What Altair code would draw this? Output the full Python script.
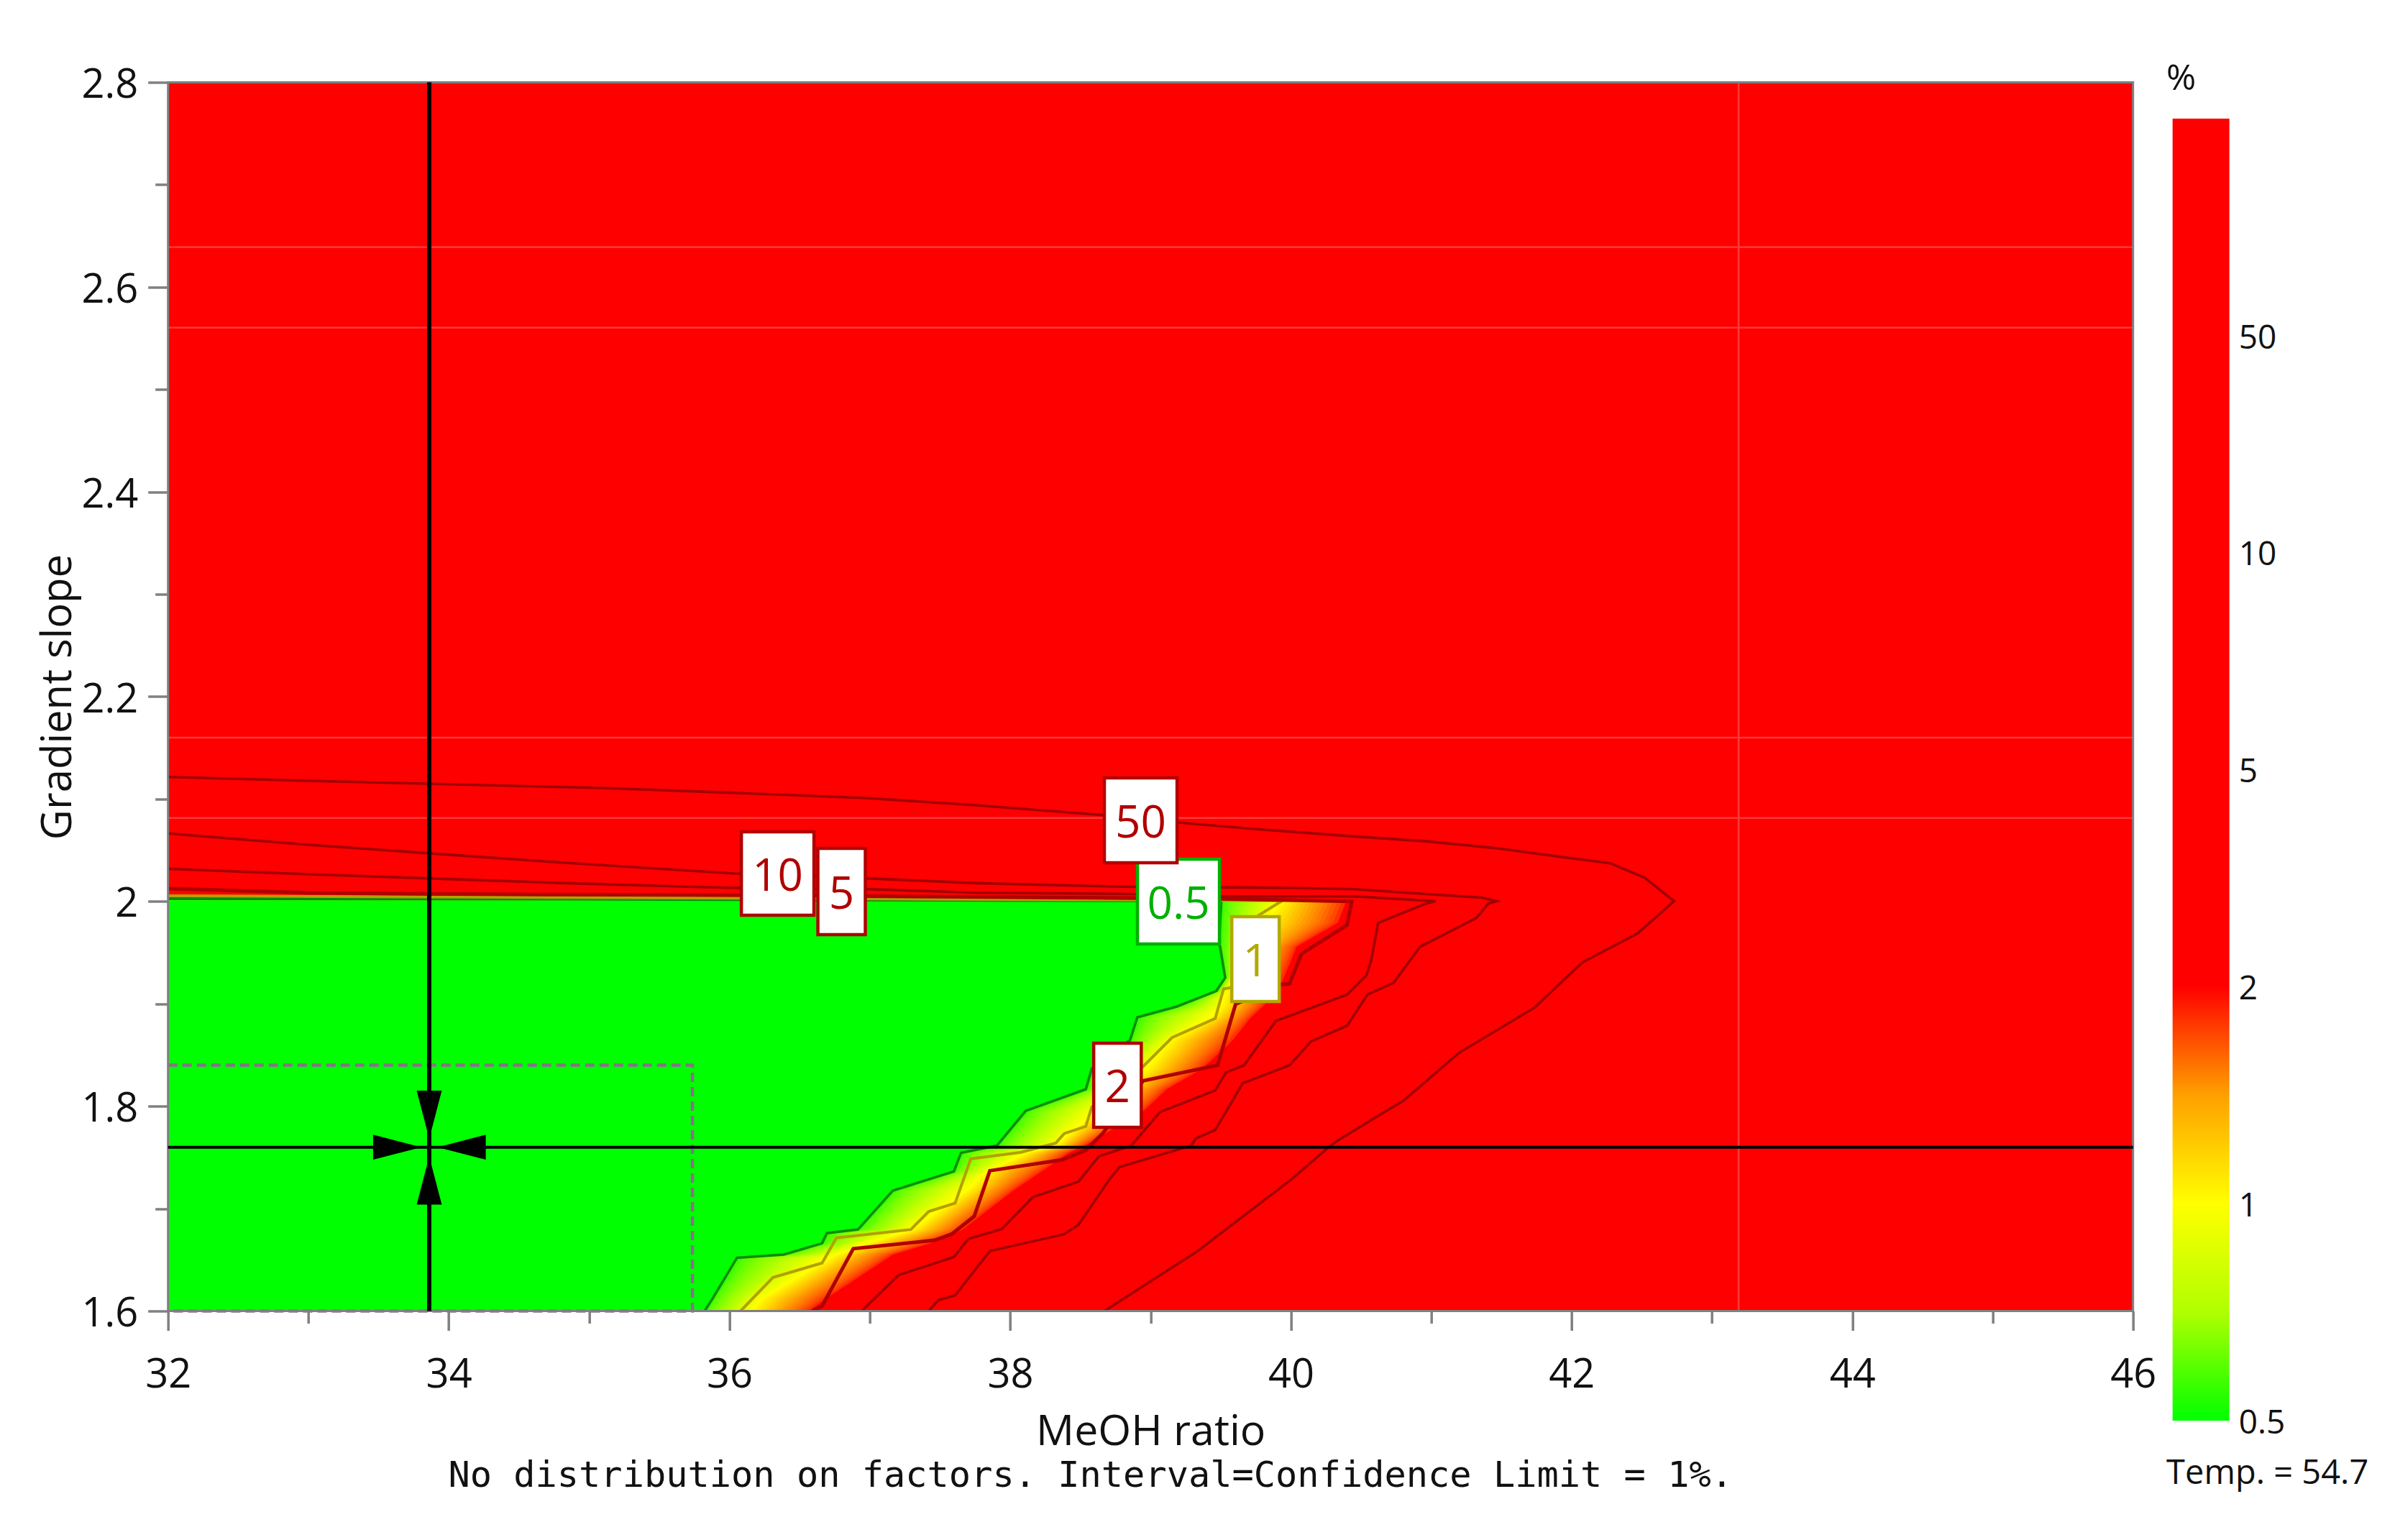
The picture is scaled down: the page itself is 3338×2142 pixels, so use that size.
import altair as alt
import pandas as pd

FONT = "Open Sans"

# contour lines (MeOH ratio, gradient slope)
c05_x = [32, 34.83, 39.504, 39.487, 39.495, 39.532, 39.469, 39.187, 38.906, 38.854, 38.581, 38.539, 38.111, 37.906, 37.650, 37.599, 37.164, 36.916, 36.694, 36.660, 36.387, 36.054, 35.883, 35.823]
c05_y = [2.0025, 2.0022, 2.0003, 1.9582, 1.9559, 1.9255, 1.9126, 1.8974, 1.8869, 1.8646, 1.8365, 1.8166, 1.7955, 1.7616, 1.7545, 1.7363, 1.7176, 1.6796, 1.6761, 1.6661, 1.6551, 1.6520, 1.6129, 1.6]
c1_x = [32, 34.83, 39.939, 39.768, 39.572, 39.520, 39.461, 39.153, 38.948, 38.581, 38.539, 38.385, 38.325, 38.077, 37.719, 37.608, 37.420, 37.292, 36.762, 36.660, 36.310, 36.079]
c1_y = [2.0055, 2.0039, 2.0008, 1.9863, 1.9158, 1.9145, 1.8857, 1.8670, 1.8389, 1.7991, 1.7804, 1.7733, 1.7640, 1.7550, 1.7487, 1.7054, 1.6972, 1.6796, 1.6715, 1.6469, 1.6328, 1.6]
c2_x = [32, 33, 33.84, 34.83, 36.03, 39.5, 40.434, 40.400, 40.076, 39.990, 39.930, 39.606, 39.478, 38.948, 38.658, 38.539, 38.368, 37.855, 37.744, 37.582, 37.462, 36.882, 36.660, 36.591]
c2_y = [2.0125, 2.0085, 2.0074, 2.0067, 2.0062, 2.0026, 2.0, 1.9769, 1.9488, 1.9195, 1.9188, 1.8997, 1.8400, 1.8248, 1.7733, 1.7570, 1.7476, 1.7370, 1.6925, 1.6750, 1.6691, 1.6609, 1.6048, 1.6]
c5_x = [32, 33, 33.84, 34.83, 36.03, 36.97, 37.76, 38.80, 39.51, 40.45, 41.03, 40.964, 40.622, 40.571, 40.537, 40.400, 39.893, 39.666, 39.537, 39.461, 39.068, 38.863, 38.632, 38.487, 38.162, 37.940, 37.701, 37.599, 37.206, 36.942]
c5_y = [2.0319, 2.0266, 2.0226, 2.0179, 2.0132, 2.0121, 2.0085, 2.0074, 2.0050, 2.0050, 2.0003, 1.9980, 1.9792, 1.9418, 1.9277, 1.9090, 1.8833, 1.8400, 1.8330, 1.8155, 1.7944, 1.7616, 1.7511, 1.7265, 1.7112, 1.6801, 1.6703, 1.6527, 1.6352, 1.6]
c10_x = [32, 33, 33.84, 34.83, 36.03, 36.97, 37.756, 38.80, 40, 40.45, 40.96, 41.36, 41.467, 41.408, 41.322, 40.921, 40.733, 40.545, 40.400, 40.144, 39.990, 39.657, 39.461, 39.324, 39.290, 38.778, 38.709, 38.487, 38.385, 37.855, 37.608, 37.488, 37.420]
c10_y = [2.0664, 2.0554, 2.0472, 2.0378, 2.0273, 2.0226, 2.0179, 2.0144, 2.0132, 2.0120, 2.0073, 2.0038, 2.0003, 1.9980, 1.9839, 1.9558, 1.9207, 1.9090, 1.8786, 1.8634, 1.8400, 1.8225, 1.7769, 1.7687, 1.7616, 1.7406, 1.7289, 1.6843, 1.6750, 1.6586, 1.6153, 1.6106, 1.6]
c50_x = [32, 33, 33.84, 35.09, 36.03, 36.972, 37.756, 38.645, 39.256, 39.768, 40.451, 40.964, 41.476, 41.920, 42.275, 42.520, 42.730, 42.470, 42.078, 41.735, 41.196, 40.804, 40.639, 40.331, 40.263, 40.007, 39.334, 38.672]
c50_y = [2.1216, 2.1178, 2.1150, 2.1108, 2.1061, 2.1010, 2.0940, 2.0846, 2.0764, 2.0705, 2.0635, 2.0588, 2.0518, 2.0436, 2.0373, 2.0232, 2.0003, 1.9688, 1.9406, 1.8963, 1.8520, 1.8056, 1.7921, 1.7663, 1.7593, 1.7289, 1.6585, 1.6]

# colour field: for each row, where pure green ends, where it is yellow, where it turns pure red
row_y = [1.6, 1.6129, 1.6520, 1.6551, 1.6661, 1.6761, 1.6796, 1.7176, 1.7363, 1.7545, 1.7616, 1.7955, 1.8166, 1.8365, 1.8646, 1.8869, 1.8974, 1.9126, 1.9255, 1.9559, 1.9791, 2.001]
row_green = [35.823, 35.883, 36.054, 36.387, 36.660, 36.694, 36.916, 37.164, 37.599, 37.650, 37.906, 38.111, 38.539, 38.581, 38.854, 38.906, 39.187, 39.469, 39.532, 39.495, 39.500, 39.504]
row_yellow = [36.165, 36.250, 36.728, 36.779, 36.984, 37.240, 37.309, 37.701, 37.838, 38.128, 38.333, 38.624, 38.795, 38.982, 39.153, 39.444, 39.512, 39.546, 39.598, 39.751, 39.837, 39.939]
row_red = [36.591, 36.725, 37.155, 37.189, 37.462, 37.633, 37.684, 38.043, 38.248, 38.436, 38.547, 38.974, 39.136, 39.392, 39.614, 39.734, 39.819, 39.922, 39.973, 40.059, 40.366, 40.426]

# contour value boxes
box_text = ["0.5", "50", "10", "5", "1", "2"]
box_x1 = [38.907, 38.671, 36.085, 36.630, 39.579, 38.595]
box_x2 = [39.491, 39.189, 36.602, 36.968, 39.917, 38.934]
box_y1 = [1.9585, 2.0378, 1.9865, 1.9676, 1.9023, 1.7794]
box_y2 = [2.0413, 2.1206, 2.0680, 2.0518, 1.9851, 1.8616]
box_color = ["#00b000", "#b00000", "#b00000", "#b00000", "#b3a800", "#b00000"]

cross_x = 33.861
cross_y = 1.76
light_y = [2.639, 2.5604, 2.16, 2.0815]
light_x = [43.19]
dash_x = [32, 35.736, 35.736, 32]
dash_y = [1.8402, 1.8402, 1.6, 1.6]
legend_ticks = ["50", "10", "5", "2", "1", "0.5"]
x_ticks = [32, 33, 34, 35, 36, 37, 38, 39, 40, 41, 42, 43, 44, 45, 46]
y_ticks = [1.6, 1.7, 1.8, 1.9, 2.0, 2.1, 2.2, 2.3, 2.4, 2.5, 2.6, 2.7, 2.8]

x_scale = alt.Scale(domain=[32, 46], nice=False, zero=False)
y_scale = alt.Scale(domain=[1.6, 2.8], nice=False, zero=False)
color_scale = alt.Scale(domain=[0, 1, 2, 6], range=["#00ff00", "#ffff00", "#ff0000", "#ff0000"])

X = alt.X("x:Q", scale=x_scale, title="MeOH ratio", axis=alt.Axis(
    values=x_ticks, labelExpr="datum.value % 2 == 0 ? format(datum.value, 'd') : ''",
    tickSize={"condition": {"test": "datum.value % 2 == 0", "value": 27}, "value": 17},
    tickColor="#808080", tickWidth=3.5, domain=False, grid=False, labelPadding=35,
    labelFontSize=56, labelFont=FONT, labelColor="#111111", labelOverlap=False, labelFlush=False,
    titleFontSize=59, titleFont=FONT, titleFontWeight="normal", titleColor="#111111", titlePadding=22, zindex=1))
Y = alt.Y("y:Q", scale=y_scale, title="Gradient slope", axis=alt.Axis(
    values=y_ticks, labelExpr="round(datum.value * 10) % 2 == 0 ? format(datum.value, '~g') : ''",
    tickSize={"condition": {"test": "round(datum.value * 10) % 2 == 0", "value": 28}, "value": 18},
    tickColor="#808080", tickWidth=3.5, domain=False, grid=False, labelPadding=14, labelOffset=4,
    labelFontSize=56, labelFont=FONT, labelColor="#111111", labelOverlap=False, labelFlush=False,
    titleFontSize=58, titleFont=FONT, titleFontWeight="normal", titleColor="#111111", titlePadding=2, zindex=1))

layers = []

# base field
base = pd.DataFrame({"x": [32], "x2": [46], "y": [1.6], "y2": [2.8], "rank": [6]})
layers.append(alt.Chart(base).mark_rect().encode(
    x=X, x2="x2:Q", y=Y, y2="y2:Q",
    color=alt.Color("rank:Q", scale=color_scale, legend=alt.Legend(
        orient="none", legendX=2788, legendY=50.5, direction="vertical", title=None,
        gradientLength=1811, gradientThickness=79, gradientStrokeWidth=0,
        values=[2], labelExpr="''"))))

# green-yellow-red bands, painted from the outermost inwards
band_rows = []
for k in range(32, -1, -1):
    r = k / 16
    for yy, g, yl, rd in zip(row_y, row_green, row_yellow, row_red):
        edge = g + r * (yl - g) if r <= 1 else yl + (r - 1) * (rd - yl)
        band_rows.append({"y": yy, "x": edge, "x0": 32, "rank": r})
layers.append(alt.Chart(pd.DataFrame(band_rows)).mark_area(orient="horizontal", stroke=None).encode(
    x=alt.X("x:Q", scale=x_scale), x2="x0:Q", y=alt.Y("y:Q", scale=y_scale),
    color=alt.Color("rank:Q", scale=color_scale), detail="rank:Q"))

# faint lighter lines of the field
layers.append(alt.Chart(pd.DataFrame({"y": light_y})).mark_rule(color="#ff3a3a", strokeWidth=2.5).encode(
    y=alt.Y("y:Q", scale=y_scale)))
layers.append(alt.Chart(pd.DataFrame({"x": light_x})).mark_rule(color="#ff3a3a", strokeWidth=2.5).encode(
    x=alt.X("x:Q", scale=x_scale)))

# contour lines
for xs, ys, col, w in [
    (c50_x, c50_y, "#a00000", 3.6), (c10_x, c10_y, "#a00000", 3.6), (c5_x, c5_y, "#a00000", 3.6),
    (c05_x, c05_y, "#0a8c0a", 3.6), (c1_x, c1_y, "#b3a000", 4), (c2_x, c2_y, "#b00000", 5),
]:
    d = pd.DataFrame({"x": xs, "y": ys, "i": range(len(xs))})
    layers.append(alt.Chart(d).mark_line(color=col, strokeWidth=w, strokeJoin="miter", clip=True).encode(
        x=alt.X("x:Q", scale=x_scale), y=alt.Y("y:Q", scale=y_scale), order="i:Q"))

# dashed rectangle
d = pd.DataFrame({"x": dash_x, "y": dash_y, "i": range(len(dash_x))})
layers.append(alt.Chart(d).mark_line(color="#8a6f8a", strokeWidth=4.5, strokeDash=[13, 7]).encode(
    x=alt.X("x:Q", scale=x_scale), y=alt.Y("y:Q", scale=y_scale), order="i:Q"))

# frame
layers.append(alt.Chart(base).mark_rect(filled=False, stroke="#808080", strokeWidth=3).encode(
    x=alt.X("x:Q", scale=x_scale), x2="x2:Q", y=alt.Y("y:Q", scale=y_scale), y2="y2:Q"))

# crosshair
layers.append(alt.Chart(pd.DataFrame({"x": [cross_x]})).mark_rule(color="black", strokeWidth=6).encode(
    x=alt.X("x:Q", scale=x_scale)))
layers.append(alt.Chart(pd.DataFrame({"y": [cross_y]})).mark_rule(color="black", strokeWidth=4).encode(
    y=alt.Y("y:Q", scale=y_scale)))
for ax, ay, shape in [
    (cross_x, 1.7917, "M-0.52,-1L0.52,-1L0,1Z"),
    (cross_x, 1.7274, "M-0.52,1L0.52,1L0,-1Z"),
    (33.633, cross_y, "M-1,-0.52L-1,0.52L1,0Z"),
    (34.092, cross_y, "M1,-0.52L1,0.52L-1,0Z"),
]:
    layers.append(alt.Chart(pd.DataFrame({"x": [ax], "y": [ay]})).mark_point(
        shape=shape, size=4500, filled=True, fill="black", opacity=1, stroke=None).encode(
        x=alt.X("x:Q", scale=x_scale), y=alt.Y("y:Q", scale=y_scale)))

# contour value boxes
boxes = pd.DataFrame({"t": box_text, "x": box_x1, "x2": box_x2, "y": box_y1, "y2": box_y2, "c": box_color})
boxes["xm"] = (boxes.x + boxes.x2) / 2
boxes["ym"] = (boxes.y + boxes.y2) / 2
layers.append(alt.Chart(boxes).mark_rect(fill="white", strokeWidth=4.5).encode(
    x=alt.X("x:Q", scale=x_scale), x2="x2:Q", y=alt.Y("y:Q", scale=y_scale), y2="y2:Q",
    stroke=alt.Stroke("c:N", scale=None), order="t:N"))
layers.append(alt.Chart(boxes).mark_text(fontSize=62, font=FONT, baseline="middle", align="center", dy=5).encode(
    x=alt.X("xm:Q", scale=x_scale), y=alt.Y("ym:Q", scale=y_scale), text="t:N",
    color=alt.Color("c:N", scale=None)))

# colour bar labels
for i, lab in enumerate(legend_ticks):
    layers.append(alt.Chart(pd.DataFrame({"t": [lab]})).mark_text(
        fontSize=46, font=FONT, align="left", baseline="middle", color="#111111").encode(
        x=alt.value(2880), y=alt.value(356 + 301.9 * i), text="t:N"))

# free texts
for txt, px, py, size, font, align in [
    ("%", 2800, -5, 50, FONT, "center"),
    ("Temp. = 54.7", 2920, 1935, 47, FONT, "center"),
    ("No distribution on factors. Interval=Confidence Limit = 1%.", 1283, 1938, 50.3, "DejaVu Sans Mono", "center"),
]:
    layers.append(alt.Chart(pd.DataFrame({"t": [txt]})).mark_text(
        fontSize=size, font=font, align=align, baseline="middle", color="#111111").encode(
        x=alt.value(px), y=alt.value(py), text="t:N"))

chart = alt.layer(*layers).properties(
    width=2733, height=1709,
    padding={"left": 225.7, "top": 106.5, "right": 363.3, "bottom": 310.5},
    autosize=alt.AutoSizeParams(type="none"),
    background="white",
).configure_view(stroke=None)

chart.save("out.html", embed_options={"renderer": "svg", "actions": False})
